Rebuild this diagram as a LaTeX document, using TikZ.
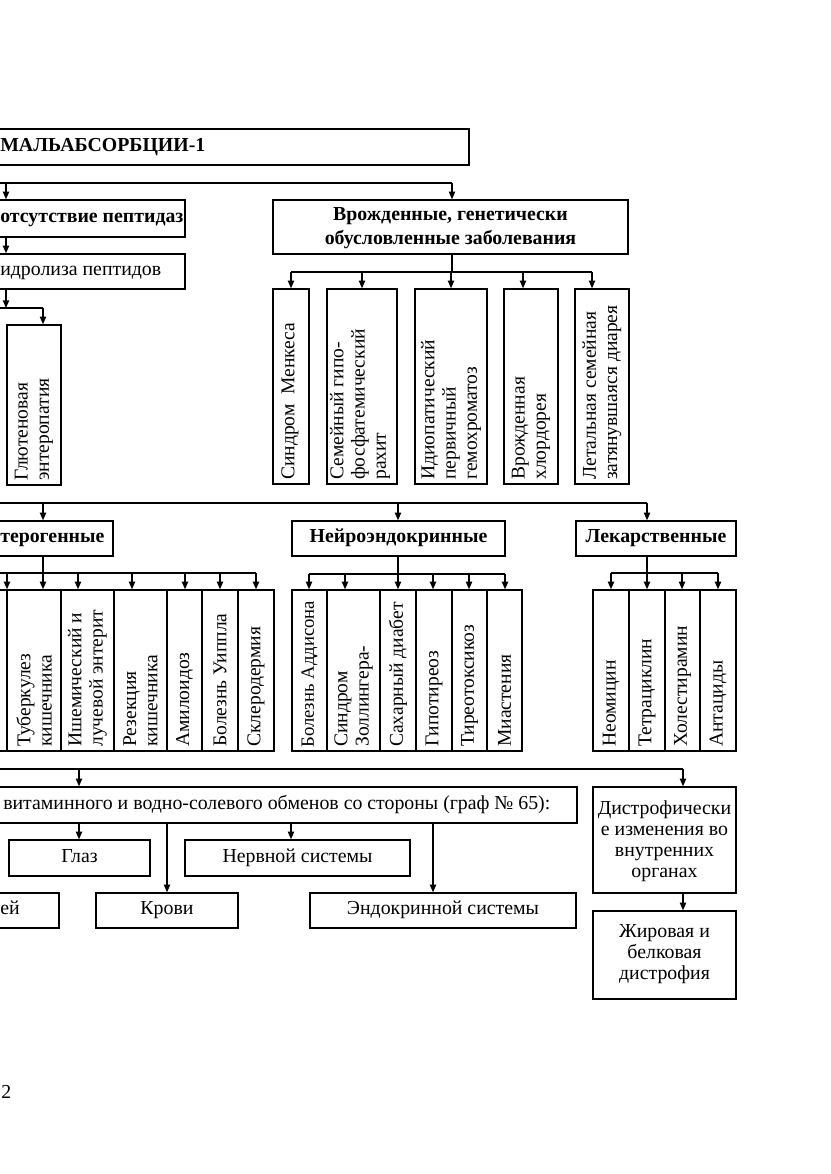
\documentclass[tikz,border=0pt]{standalone}
\usepackage{fontspec}
\setmainfont{Liberation Serif}
\usetikzlibrary{arrows.meta,fit,calc}
\tikzset{
  box/.style={draw, line width=1pt, inner sep=0pt},
  lbl/.style={inner sep=0pt, align=center, font=\fontsize{14.2pt}{15pt}\selectfont},
  lbls/.style={lbl, text height=0.8em, text depth=0.2em},
  blbl/.style={inner sep=0pt, align=center, font=\fontsize{14.2pt}{15pt}\selectfont\bfseries},
  blbls/.style={blbl, text height=0.8em, text depth=0.2em},
  vlbl/.style={rotate=90, anchor=west, align=left, inner sep=0pt, font=\fontsize{14pt}{15.2pt}\selectfont},
  arr/.style={-{Triangle[length=5.5pt,width=4.5pt]}, line width=1pt},
  ln/.style={line width=1pt},
}
\newcommand\mybox[5]{\node[box, fit={(#2,#3)(#4,#5)}] (#1) {};}
\begin{document}
\begin{tikzpicture}[x=0.7164pt, y=-0.7164pt]
\useasboundingbox (0,0) rectangle (831,1174);
\clip (0,0) rectangle (831,1174);
% ---------- level 1
\mybox{title}{-300}{129}{469}{165}
\node[blbls, anchor=west] (titleT) at (0,147) {МАЛЬАБСОРБЦИИ-1};
% ---------- level 2
\mybox{otsut}{-100}{200}{185}{237}
\node[blbls, anchor=west] (otsutT) at (0,218.5) {отсутствие пептидаз};
\mybox{gidro}{-100}{254}{185}{289}
\node[lbls, anchor=west] (gidroT) at (0,271.5) {идролиза пептидов};
\mybox{vrozh}{273}{200}{628}{254}
\node[blbl, font=\fontsize{14.2pt}{17.5pt}\selectfont\bfseries] (vrozhT) at ($(vrozh.center)+(0,1)$) {Врожденные, генетически\\обусловленные заболевания};
% junctions level 1-2
\coordinate (j0) at (0,183);
\coordinate (j1) at (6,183);
\coordinate (j1r) at (452,183);
\draw[ln] (j0) -- (j1r);
\draw[arr] (j1) -- (j1 |- otsut.north);
\draw[arr] (j1r) -- (j1r |- vrozh.north);
\draw[arr] (otsut.south -| j1) -- (gidro.north -| j1);
% glut
\coordinate (j2) at (6,308);
\coordinate (j2l) at (0,308);
\coordinate (j2r) at (43,308);
\draw[arr] (gidro.south -| j1) -- (j2);
\draw[ln] (j2l) -- (j2r);
\mybox{glut}{7}{325}{61}{485}
\node[vlbl] (glutT) at (34,481) {Глютеновая\\энтеропатия};
\draw[arr] (j2r) -- (j2r |- glut.north);
% genetic row
\mybox{g1}{273}{289}{309}{484}
\mybox{g2}{327}{289}{397}{484}
\mybox{g3}{415}{289}{487}{484}
\mybox{g4}{504}{289}{558}{484}
\mybox{g5}{575}{289}{629}{484}
\node[vlbl] (g1T) at (290,480) {Синдром\ \ Менкеса};
\node[vlbl] (g2T) at (360,480) {Семейный гипо-\\фосфатемический\\рахит};
\node[vlbl] (g3T) at (451,480) {Идиопатический\\первичный\\гемохроматоз};
\node[vlbl] (g4T) at (531,480) {Врожденная\\хлордорея};
\node[vlbl] (g5T) at (602,480) {Летальная семейная\\затянувшаяся диарея};
\coordinate (gv) at (452,272);
\coordinate (gl) at (291,272);
\coordinate (gr) at (592,272);
\draw[ln] (vrozh.south -| gv) -- (gv);
\draw[ln] (gl) -- (gr);
\foreach \n/\x in {g1/291, g2/362, g3/451, g4/523, g5/592}
  \draw[arr] (\x,272) -- (\n.north -| \x,0);
% ---------- level 3
\coordinate (k0) at (0,503);
\coordinate (k1) at (43,503);
\coordinate (k2) at (398,503);
\coordinate (k3) at (647,503);
\draw[ln] (k0) -- (k3);
\mybox{entero}{-100}{521}{113}{556}
\node[blbls, anchor=west] (enteroT) at (0,538.5) {терогенные};
\mybox{neuro}{292}{521}{505}{556}
\node[blbls] (neuroT) at (neuro.center) {Нейроэндокринные};
\mybox{lek}{576}{521}{736}{556}
\node[blbls] (lekT) at (lek.center) {Лекарственные};
\draw[arr] (k1) -- (k1 |- entero.north);
\draw[arr] (k2) -- (k2 |- neuro.north);
\draw[arr] (k3) -- (k3 |- lek.north);
% entero row
\mybox{e0}{-40}{590}{7}{751}
\mybox{e1}{7}{590}{61}{751}
\mybox{e2}{61}{590}{114}{751}
\mybox{e3}{114}{590}{167}{751}
\mybox{e4}{167}{590}{202}{751}
\mybox{e5}{202}{590}{238}{751}
\mybox{e6}{238}{590}{274}{751}
\node[vlbl] (e1T) at (34,747) {Туберкулез\\кишечника};
\node[vlbl] (e2T) at (87.5,747) {Ишемический и\\лучевой энтерит};
\node[vlbl] (e3T) at (140.5,747) {Резекция\\кишечника};
\node[vlbl] (e4T) at (184.5,747) {Амилоидоз};
\node[vlbl] (e5T) at (220,747) {Болезнь Уиппла};
\node[vlbl] (e6T) at (256,747) {Склеродермия};
\coordinate (ev) at (43,573);
\coordinate (el) at (0,573);
\coordinate (er) at (256,573);
\draw[ln] (entero.south -| ev) -- (ev);
\draw[ln] (el) -- (er);
\foreach \n/\x in {e0/7, e1/43, e2/78, e3/132, e4/185, e5/220, e6/256}
  \draw[arr] (\x,573) -- (\n.north -| \x,0);
% neuro row
\mybox{n1}{292}{590}{327}{751}
\mybox{n2}{327}{590}{380}{751}
\mybox{n3}{380}{590}{416}{751}
\mybox{n4}{416}{590}{452}{751}
\mybox{n5}{452}{590}{487}{751}
\mybox{n6}{487}{590}{522}{751}
\node[vlbl, font=\fontsize{13.4pt}{15pt}\selectfont] (n1T) at (309.5,748) {Болезнь Аддисона};
\node[vlbl] (n2T) at (353.5,747) {Синдром\\Золлингера-};
\node[vlbl] (n3T) at (398,747) {Сахарный диабет};
\node[vlbl] (n4T) at (434,747) {Гипотиреоз};
\node[vlbl] (n5T) at (469.5,747) {Тиреотоксикоз};
\node[vlbl] (n6T) at (504.5,747) {Миастения};
\coordinate (nv) at (398,574);
\coordinate (nl) at (309,574);
\coordinate (nr) at (505,574);
\draw[ln] (neuro.south -| nv) -- (nv);
\draw[ln] (nl) -- (nr);
\foreach \n/\x in {n1/309, n2/345, n3/398, n4/433, n5/469, n6/505}
  \draw[arr] (\x,574) -- (\n.north -| \x,0);
% lek row
\mybox{l1}{593}{590}{629}{751}
\mybox{l2}{629}{590}{665}{751}
\mybox{l3}{665}{590}{700}{751}
\mybox{l4}{700}{590}{736}{751}
\node[vlbl] (l1T) at (611,747) {Неомицин};
\node[vlbl] (l2T) at (647,747) {Тетрациклин};
\node[vlbl] (l3T) at (682.5,747) {Холестирамин};
\node[vlbl] (l4T) at (718,747) {Антациды};
\coordinate (lv) at (647,573);
\coordinate (ll) at (611,573);
\coordinate (lr) at (718,573);
\draw[ln] (lek.south -| lv) -- (lv);
\draw[ln] (ll) -- (lr);
\foreach \n/\x in {l1/611, l2/647, l3/682, l4/718}
  \draw[arr] (\x,573) -- (\n.north -| \x,0);
% ---------- bottom part
\coordinate (m0) at (0,769);
\coordinate (m1) at (79,769);
\coordinate (m2) at (683,769);
\draw[ln] (m0) -- (m2);
\mybox{vit}{-50}{787}{577}{823}
\node[lbls, anchor=west] (vitT) at (3,805) {витаминного и водно-солевого обменов со стороны (граф № 65):};
\mybox{distr}{593}{787}{736}{893}
\node[lbl] (distrT) at ($(distr.center)+(0,1)$) {Дистрофически\\е изменения во\\внутренних\\органах};
\mybox{zhir}{593}{911}{736}{999}
\node[lbl] (zhirT) at ($(zhir.center)+(0,-1)$) {Жировая и\\белковая\\дистрофия};
\draw[arr] (m1) -- (m1 |- vit.north);
\draw[arr] (m2) -- (m2 |- distr.north);
\draw[arr] (distr.south -| m2) -- (zhir.north -| m2);
\mybox{glaz}{9}{840}{150}{876}
\node[lbls] (glazT) at (glaz.center) {Глаз};
\mybox{nerv}{185}{840}{410}{876}
\node[lbls] (nervT) at (nerv.center) {Нервной системы};
\mybox{kost}{-100}{893}{59}{928}
\node[lbls, anchor=west] (kostT) at (0,910.5) {ей};
\mybox{krov}{96}{893}{238}{928}
\node[lbls] (krovT) at (krov.center) {Крови};
\mybox{endo}{310}{893}{576}{928}
\node[lbls] (endoT) at (endo.center) {Эндокринной системы};
\coordinate (p1) at (79,0);
\coordinate (p2) at (167,0);
\coordinate (p3) at (291,0);
\coordinate (p4) at (433,0);
\draw[arr] (vit.south -| p1) -- (glaz.north -| p1);
\draw[arr] (vit.south -| p2) -- (krov.north -| p2);
\draw[arr] (vit.south -| p3) -- (nerv.north -| p3);
\draw[arr] (vit.south -| p4) -- (endo.north -| p4);
% page number
\node[lbls, anchor=west] (pagenum) at (1,1094) {2};
\end{tikzpicture}
\end{document}
